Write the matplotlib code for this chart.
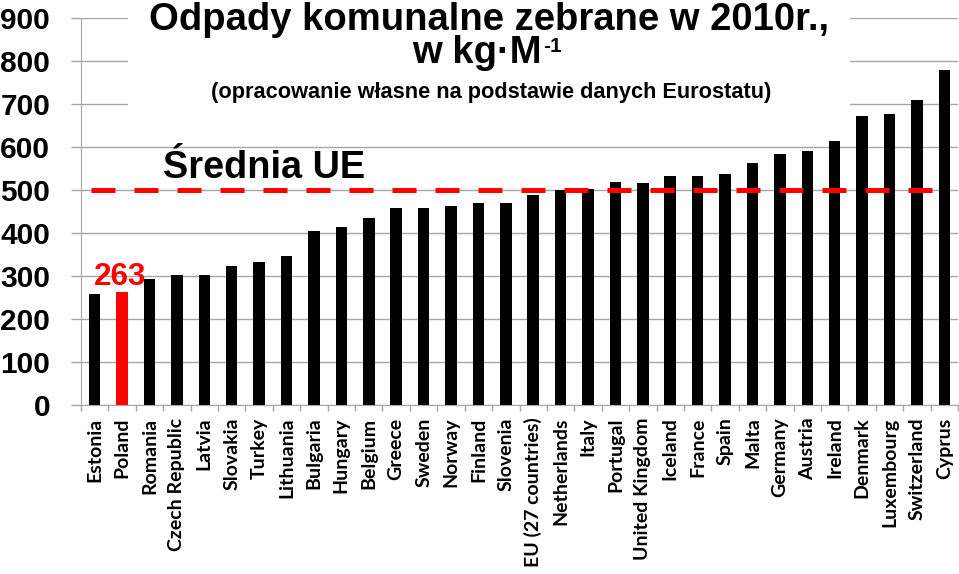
import matplotlib
matplotlib.use("Agg")
import matplotlib.pyplot as plt
from matplotlib.patches import Rectangle
import numpy as np

countries = ["Estonia", "Poland", "Romania", "Czech Republic", "Latvia", "Slovakia",
             "Turkey", "Lithuania", "Bulgaria", "Hungary", "Belgium", "Greece",
             "Sweden", "Norway", "Finland", "Slovenia", "EU (27 countries)",
             "Netherlands", "Italy", "Portugal", "United Kingdom", "Iceland",
             "France", "Spain", "Malta", "Germany", "Austria", "Ireland",
             "Denmark", "Luxembourg", "Switzerland", "Cyprus"]
values = [259, 263, 294, 302, 303, 323, 333, 347, 404, 415, 434, 457,
          459, 462, 469, 470, 488, 499, 502, 518, 517, 532, 533, 537,
          563, 584, 591, 614, 673, 677, 709, 779]
highlight = "Poland"
eu_average = 500
yticks = [0, 100, 200, 300, 400, 500, 600, 700, 800, 900]

W, H = 959, 574
fig = plt.figure(figsize=(W / 100, H / 100), dpi=100)
ax = fig.add_axes([81 / W, 1 - 405 / H, (958 - 81) / W, (405 - 18) / H])

x = np.arange(len(countries))
colors = ["#ff0000" if c == highlight else "#000000" for c in countries]
ax.bar(x, values, width=0.42, color=colors, zorder=2)

ax.set_xlim(-0.5, len(countries) - 0.5)
ax.set_ylim(0, 900)
ax.set_yticks(yticks)
ax.set_yticklabels([str(v) for v in yticks], fontfamily="Liberation Sans",
                   fontweight="bold", fontsize=21.5)
ax.set_axisbelow(True)
ax.yaxis.grid(True, color="#a6a6a6", linewidth=1.0, zorder=0.5)
ax.tick_params(axis="y", length=7.2, width=1.0, color="#a6a6a6", pad=15)

ax.set_xticks(x)
ax.set_xticklabels(countries, rotation=90, fontfamily="Lato", fontweight="bold",
                   fontsize=14)
ax.tick_params(axis="x", which="major", length=0, pad=9)
ax.set_xticks(np.arange(len(countries) + 1) - 0.5, minor=True)
ax.tick_params(axis="x", which="minor", length=4, width=1.0, color="#a6a6a6")

for s in ["top", "right"]:
    ax.spines[s].set_visible(False)
ax.spines["left"].set_color("#a6a6a6")
ax.spines["bottom"].set_color("#a6a6a6")

# EU average dashed line
ax.plot([-0.135, 30.56], [eu_average, eu_average], color="#ff0000",
        linewidth=3.6, linestyle=(0, (4.8, 3.8)), zorder=3,
        dash_capstyle="butt")

# white title background
ax.add_patch(Rectangle((128 / W, 1 - 135 / H), (850 - 128) / W, 135 / H,
                       transform=fig.transFigure, facecolor="white",
                       edgecolor="none", zorder=1))

bold = dict(fontfamily="Liberation Sans", fontweight="bold")
fig.text(489 / W, 1 - 30 / H, "Odpady komunalne zebrane w 2010r.,", ha="center",
         va="baseline", fontsize=27.5, **bold)
fig.text(542 / W, 1 - 63 / H, "w kg·M", ha="right", va="baseline",
         fontsize=27.5, **bold)
fig.text(543 / W, 1 - 52 / H, "-1", ha="left", va="baseline",
         fontsize=15, **bold)
fig.text(491 / W, 1 - 98 / H, "(opracowanie własne na podstawie danych Eurostatu)",
         ha="center", va="baseline", fontsize=15.7, **bold)
fig.text(264 / W, 1 - 178 / H, "Średnia UE", ha="center", va="baseline",
         fontsize=27.3, **bold)

pi = countries.index(highlight)
ax.annotate(str(values[pi]), xy=(pi, values[pi]), xytext=(-1.5, 5),
            textcoords="offset points", ha="center", va="baseline",
            color="#ff0000", fontsize=22.7, zorder=4, **bold)

fig.savefig("out.png", dpi=100)
